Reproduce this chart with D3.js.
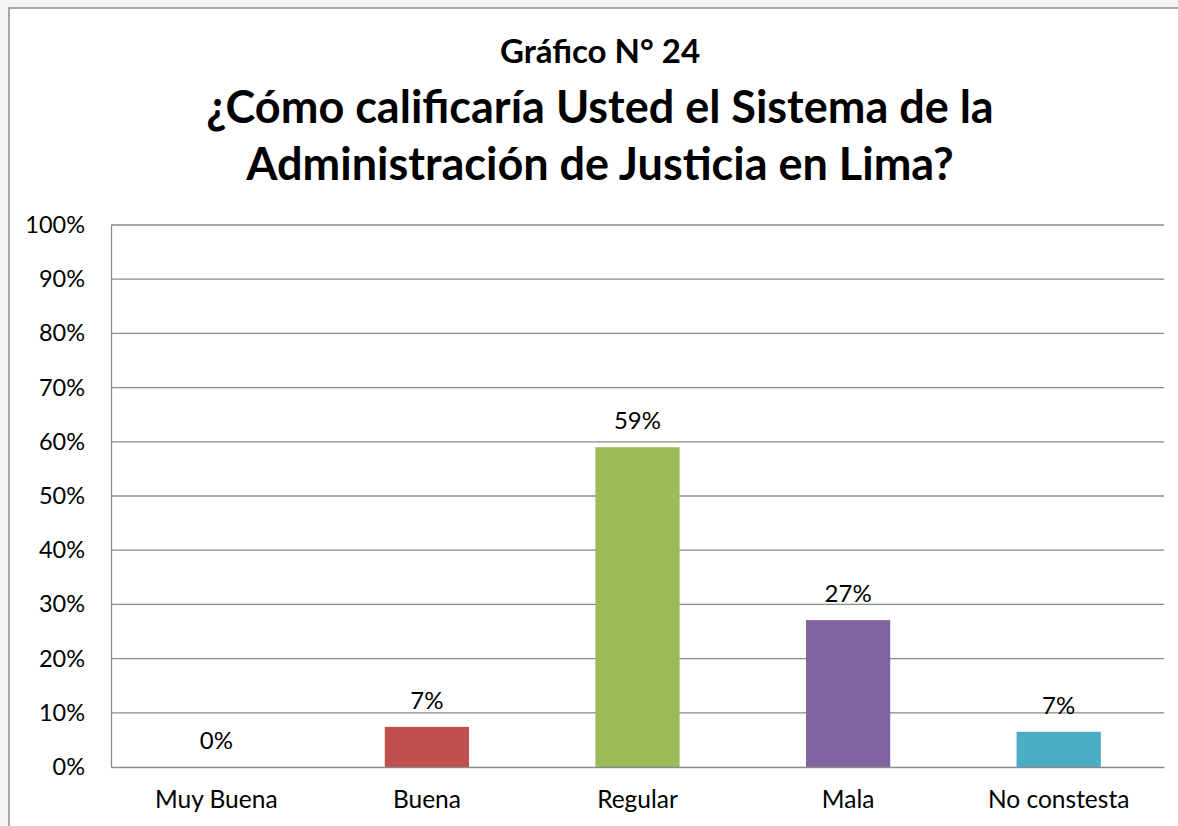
<!DOCTYPE html>
<html>
<head>
<meta charset="utf-8">
<script src="https://cdn.jsdelivr.net/npm/d3@7"></script>
<style>
  html, body { margin: 0; padding: 0; background: #ffffff; }
  svg { display: block; }
  text { font-family: Lato, "Open Sans", sans-serif; }
</style>
</head>
<body>
<svg id="chart" width="1178" height="826"></svg>
<script>
// Survey answers and their shares (percent)
const categories = ["Muy Buena", "Buena", "Regular", "Mala", "No constesta"];
const shares = [0, 7.4, 59.0, 27.1, 6.5];
const barColors = ["#4F81BD", "#C0504D", "#9BBB59", "#8064A2", "#4BACC6"];
const yTicks = [0, 10, 20, 30, 40, 50, 60, 70, 80, 90, 100];
const subtitle = "Gráfico N° 24";
const titleLines = ["¿Cómo calificaría Usted el Sistema de la", "Administración de Justicia en Lima?"];

const svg = d3.select("#chart");
const W = 1178, H = 826;

// thin strip of page above the chart frame
svg.append("rect").attr("x", 0).attr("y", 0).attr("width", W).attr("height", H).attr("fill", "#f4f4f4");
svg.append("rect")
  .attr("x", 9).attr("y", 8).attr("width", W + 10).attr("height", H + 10)
  .attr("fill", "#ffffff").attr("stroke", "#8c8c8c").attr("stroke-width", 1.5);

// Titles
svg.append("text")
  .attr("x", 600).attr("y", 63)
  .attr("text-anchor", "middle")
  .attr("font-size", 33).attr("font-weight", "bold").attr("fill", "#000")
  .text(subtitle);
svg.selectAll("text.title").data(titleLines).join("text")
  .attr("class", "title")
  .attr("x", 600).attr("y", (d, i) => 123 + i * 57)
  .attr("text-anchor", "middle")
  .attr("font-size", 45).attr("font-weight", "bold").attr("fill", "#000")
  .text(d => d);

const plot = { left: 111, right: 1164, top: 225, bottom: 767 };

const x = d3.scaleBand()
  .domain(categories)
  .range([plot.left, plot.right])
  .paddingInner(0.6)
  .paddingOuter(0.3);

const y = d3.scaleLinear()
  .domain([0, 100])
  .range([plot.bottom, plot.top]);

// Horizontal gridlines
svg.append("g")
  .selectAll("line")
  .data(yTicks.filter(t => t > 0))
  .join("line")
  .attr("x1", plot.left).attr("x2", plot.right)
  .attr("y1", d => y(d)).attr("y2", d => y(d))
  .attr("stroke", "#8a8a8a").attr("stroke-width", 1.3);

// Y axis
const yAxis = svg.append("g")
  .attr("transform", `translate(${plot.left},0)`)
  .call(d3.axisLeft(y).tickValues(yTicks).tickSize(0).tickPadding(26).tickFormat(d => d + "%"));
yAxis.select(".domain").attr("stroke", "#8a8a8a").attr("stroke-width", 1.3);
yAxis.selectAll("text").attr("font-size", 23.5).attr("fill", "#000")
  .attr("font-family", "Lato, 'Open Sans', sans-serif");

// Bars
svg.append("g")
  .selectAll("rect")
  .data(categories)
  .join("rect")
  .attr("x", d => x(d))
  .attr("width", x.bandwidth())
  .attr("y", (d, i) => y(shares[i]))
  .attr("height", (d, i) => y(0) - y(shares[i]))
  .attr("fill", (d, i) => barColors[i]);

// X axis
const xAxis = svg.append("g")
  .attr("transform", `translate(0,${plot.bottom})`)
  .call(d3.axisBottom(x).tickSize(0).tickPadding(24));
xAxis.select(".domain").attr("stroke", "#8a8a8a").attr("stroke-width", 1.3);
xAxis.selectAll("text").attr("font-size", 24.5).attr("fill", "#000")
  .attr("font-family", "Lato, 'Open Sans', sans-serif");

// Value labels
svg.append("g")
  .selectAll("text")
  .data(categories)
  .join("text")
  .attr("x", d => x(d) + x.bandwidth() / 2)
  .attr("y", (d, i) => y(shares[i]) - 18)
  .attr("text-anchor", "middle")
  .attr("font-size", 24).attr("fill", "#000")
  .text((d, i) => Math.round(shares[i]) + "%");
</script>
</body>
</html>
